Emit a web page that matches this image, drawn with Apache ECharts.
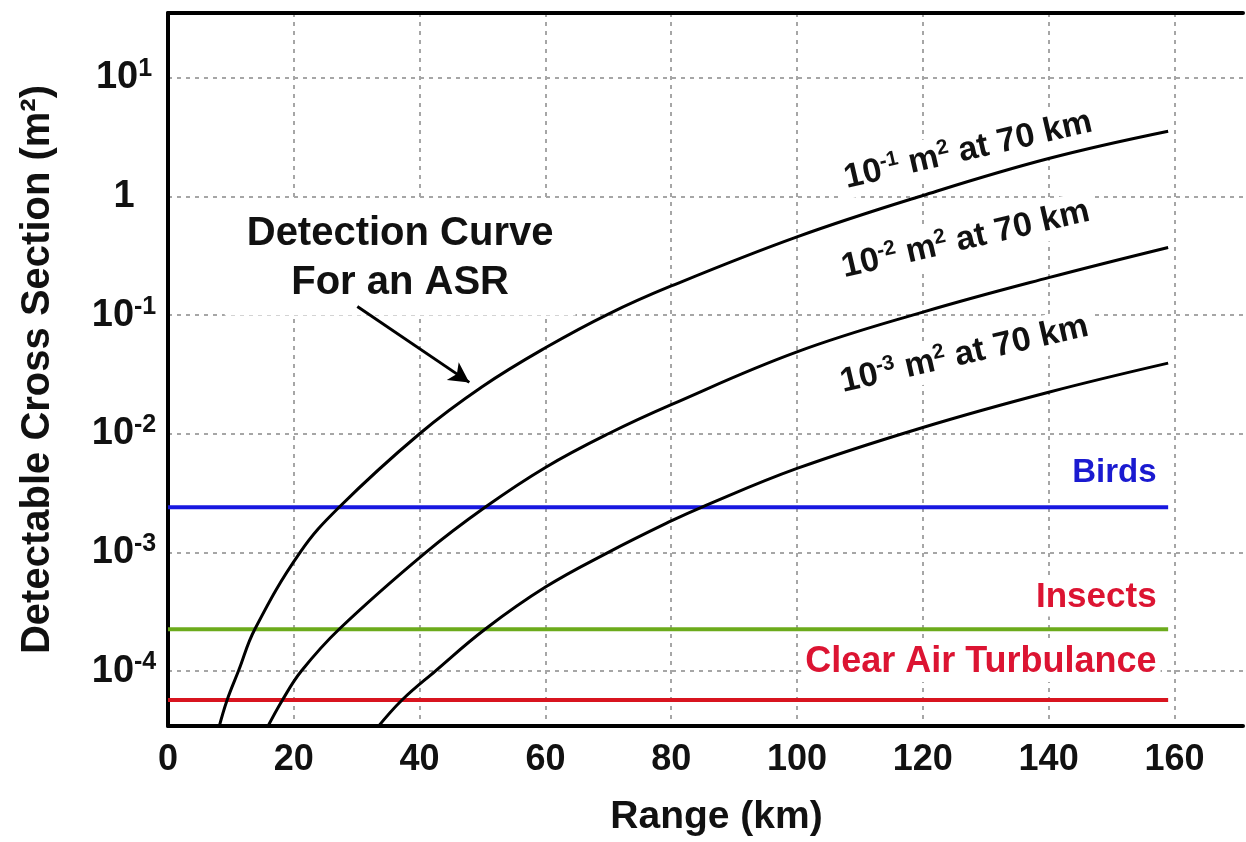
<!DOCTYPE html>
<html><head><meta charset="utf-8">
<script src="https://cdn.jsdelivr.net/npm/echarts@6/dist/echarts.min.js"></script>
<style>html,body{margin:0;padding:0;background:#fff}#c{width:1246px;height:842px}</style>
</head><body><div id="c"></div>
<script>
// ---- data ----
const curve1Range = [8.0, 9.4, 11.2, 13.8, 21.0, 27.2, 40, 50, 60, 70, 80, 100, 120, 140, 159];
const curve1Sigma = [3.2e-5, 5.7e-5, 1.0e-4, 2.25e-4, 1.0e-3, 2.4e-3, 1.0e-2, 2.5e-2, 5.3e-2, 0.102, 0.176, 0.457, 1.02, 2.09, 3.55];
const curve2Range = [15.6, 18.2, 21.2, 27.2, 41.0, 50.4, 60, 70, 80, 100, 120, 140, 159];
const curve2Sigma = [3.2e-5, 5.7e-5, 1.0e-4, 2.25e-4, 1.0e-3, 2.4e-3, 5.2e-3, 1.0e-2, 1.76e-2, 4.9e-2, 0.106, 0.207, 0.372];
const curve3Range = [33.0, 37.2, 42.5, 50.4, 60, 70, 80, 84.8, 100, 120, 140, 159];
const curve3Sigma = [3.2e-5, 5.7e-5, 1.0e-4, 2.25e-4, 5.1e-4, 1.0e-3, 1.84e-3, 2.4e-3, 5.1e-3, 1.13e-2, 2.24e-2, 3.94e-2];
const curveExponents = ['-1', '-2', '-3'];
const thresholdNames = ['Birds', 'Insects', 'Clear Air Turbulance'];
const thresholdSigma = [2.4e-3, 2.25e-4, 5.7e-5];
const thresholdRange = [0, 159];
const xTickStep = 20;
const arrowFrom = [30.1, 0.118];
const arrowTo = [47.9, 0.0271];

// ---- styling / layout ----
const FONT = '"Liberation Sans", Arial, sans-serif';
const thresholdColors = ['#1818e0', '#6cab1c', '#d8141f'];
const thresholdTextColors = ['#1a1ad0', '#dc1432', '#dc1432'];
const Y_MIN = 3.44e-5, Y_MAX = 35.2, X_MAX = 170.9;
const GRID_LINE = { color: '#a6a6a6', width: 2, type: [4, 5] };

function pairs(xs, ys) { return xs.map((x, i) => [x, ys[i]]); }

const curveSeries = [[curve1Range, curve1Sigma], [curve2Range, curve2Sigma], [curve3Range, curve3Sigma]].map((c, i) => ({
  type: 'line', name: 'curve' + (i + 1), data: pairs(c[0], c[1]), showSymbol: false, smooth: 0.4,
  lineStyle: { color: '#000', width: 3 }, z: 4, silent: true,
  markLine: i === 0 ? {
    silent: true, symbol: ['none', 'arrow'], symbolSize: [16, 20],
    lineStyle: { color: '#000', width: 3, type: 'solid' }, label: { show: false },
    data: [[{ coord: arrowFrom }, { coord: arrowTo }]]
  } : undefined
}));

const thresholdSeries = thresholdSigma.map((v, i) => ({
  type: 'line', name: thresholdNames[i], data: thresholdRange.map(r => [r, v]), showSymbol: false,
  lineStyle: { color: thresholdColors[i], width: 4 }, z: 3, silent: true
}));

const option = {
  animation: false,
  backgroundColor: '#fff',
  grid: { left: 168, right: 0, top: 13, bottom: 115 },
  xAxis: [{
    type: 'value', min: 0, max: X_MAX, interval: xTickStep, position: 'bottom',
    name: 'Range (km)', nameLocation: 'middle', nameGap: 72,
    nameTextStyle: { fontFamily: FONT, fontWeight: 'bold', fontSize: 39, color: '#111', padding: [0, 0, 0, 22] },
    axisLine: { show: true, onZero: false, lineStyle: { color: '#000', width: 4 } }, axisTick: { show: false },
    axisLabel: { fontFamily: FONT, fontWeight: 'bold', fontSize: 36, color: '#111', margin: 16,
      formatter: v => (Math.abs(v % xTickStep) < 1e-9 ? String(v) : '') },
    splitLine: { show: true, showMinLine: false, showMaxLine: false, lineStyle: GRID_LINE }
  }, {
    type: 'value', min: 0, max: X_MAX, position: 'top',
    axisLine: { show: true, onZero: false, lineStyle: { color: '#000', width: 4 } },
    axisTick: { show: false }, axisLabel: { show: false }, splitLine: { show: false }
  }],
  yAxis: {
    type: 'log', logBase: 10, min: Y_MIN, max: Y_MAX,
    name: 'Detectable Cross Section (m²)', nameLocation: 'middle', nameGap: 110, nameRotate: 90,
    nameTextStyle: { fontFamily: FONT, fontWeight: 'bold', fontSize: 40, color: '#111' },
    axisLine: { show: true, onZero: false, lineStyle: { color: '#000', width: 4 } }, axisTick: { show: false },
    axisLabel: {
      align: 'center', margin: 44, color: '#111',
      formatter: function (v) {
        const e = Math.log10(v); const r = Math.round(e);
        if (Math.abs(e - r) > 1e-6) return '';
        if (r === 0) return '{a|1}';
        return '{a|10}{s|' + r + '}';
      },
      rich: {
        a: { fontFamily: FONT, fontWeight: 'bold', fontSize: 38, lineHeight: 42, color: '#111' },
        s: { fontFamily: FONT, fontWeight: 'bold', fontSize: 25, lineHeight: 18, verticalAlign: 'top', color: '#111' }
      }
    },
    splitLine: { show: true, showMinLine: false, showMaxLine: false, lineStyle: GRID_LINE }
  },
  series: thresholdSeries.concat(curveSeries)
};

const chart = echarts.init(document.getElementById('c'));
chart.setOption(option);

function px(p) { return chart.convertToPixel({ gridIndex: 0 }, p); }

// annotation anchors (data space)
const curveLabelAnchors = [[127.2, 2.45], [126.8, 0.433], [126.6, 0.0466]];
const thresholdLabelAnchors = [[157.8, 4.64e-3], [157.8, 4.2e-4], [157.8, 1.19e-4]];
const detectionAnchor = [36.9, 0.30];
const thresholdFontSizes = [33, 35, 36];

const graphics = [];
curveLabelAnchors.forEach((a, i) => {
  const p = px(a);
  graphics.push({
    type: 'text', x: p[0], y: p[1], rotation: 13 * Math.PI / 180, z: 1,
    style: {
      text: '{a|10}{s|' + curveExponents[i] + '}{a| m}{s|2}{a| at 70 km}',
      align: 'center', verticalAlign: 'middle', backgroundColor: '#fff', padding: [2, 6],
      rich: {
        a: { fontFamily: FONT, fontWeight: 'bold', fontSize: 34, lineHeight: 37, fill: '#111' },
        s: { fontFamily: FONT, fontWeight: 'bold', fontSize: 21, lineHeight: 16, verticalAlign: 'top', fill: '#111' }
      }
    }
  });
});
thresholdLabelAnchors.forEach((a, i) => {
  const p = px(a);
  graphics.push({
    type: 'text', x: p[0], y: p[1], z: 1,
    style: {
      text: thresholdNames[i], align: 'right', verticalAlign: 'middle',
      fontFamily: FONT, fontWeight: 'bold', fontSize: thresholdFontSizes[i], fill: thresholdTextColors[i],
      backgroundColor: '#fff', padding: [2, 4]
    }
  });
});
const dp = px(detectionAnchor);
graphics.push({
  type: 'text', x: dp[0], y: dp[1], z: 1,
  style: {
    text: 'Detection Curve\nFor an ASR', align: 'center', verticalAlign: 'middle',
    fontFamily: FONT, fontWeight: 'bold', fontSize: 40, lineHeight: 49, fill: '#111',
    backgroundColor: '#fff', padding: [8, 22]
  }
});
chart.setOption({ graphic: graphics });
</script></body></html>
